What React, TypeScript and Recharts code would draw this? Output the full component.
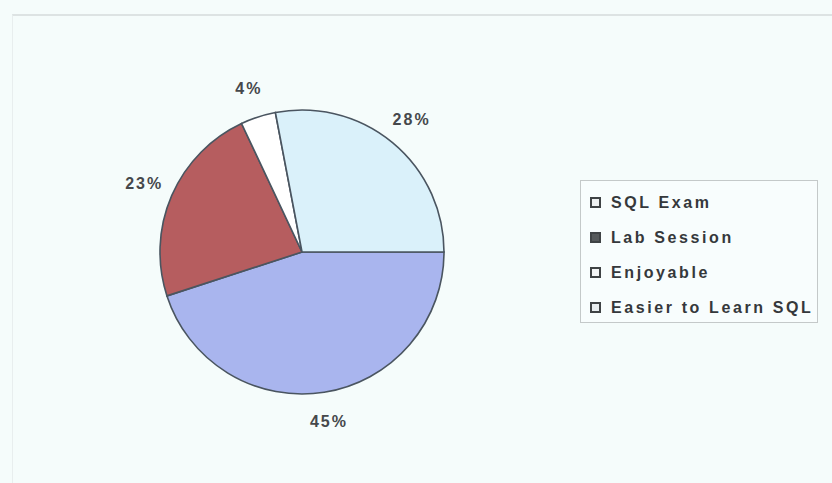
import React from "react";
import { PieChart, Pie, Cell, Legend } from "recharts";

// ── Data ──────────────────────────────────────────────────────────────────────

const categories = ["SQL Exam", "Lab Session", "Enjoyable", "Easier to Learn SQL"];
const shares = [45, 23, 4, 28];

const sliceColors = ["#a9b5ee", "#b65d5f", "#ffffff", "#daf1fa"];
// the scan renders legend swatches nearly greyscale
const swatchColors = ["#eef1f1", "#55595b", "#f4f6f6", "#e8eef0"];

const data = categories.map((name, i) => ({ name, value: shares[i] }));

const RAD = Math.PI / 180;

// ── Slice labels (outside, at mid-angle) ──────────────────────────────────────

function SliceLabel(props: any) {
  const { cx, cy, midAngle, outerRadius, percent } = props;
  const r = outerRadius + 30;
  const x = cx + r * Math.cos(-midAngle * RAD);
  const y = cy + r * Math.sin(-midAngle * RAD);
  return (
    <text
      x={x}
      y={y}
      textAnchor="middle"
      dominantBaseline="central"
      fill="#45484b"
      fontSize={16}
      fontWeight={700}
      letterSpacing={2}
      fontFamily="Arial, 'Liberation Sans', sans-serif"
    >
      {`${Math.round(percent * 100)}%`}
    </text>
  );
}

// ── Boxed legend (kept in category order, not angle order) ────────────────────

function BoxLegend() {
  return (
    <div
      style={{
        width: 238,
        height: 143,
        boxSizing: "border-box",
        border: "1px solid #c4c9c9",
        background: "#f8fdfd",
        paddingTop: 4,
      }}
    >
      {categories.map((name, i) => (
        <div
          key={name}
          style={{ display: "flex", alignItems: "center", height: 35, paddingLeft: 9 }}
        >
          <span
            style={{
              width: 7,
              height: 7,
              border: "2px solid #3f4345",
              background: swatchColors[i],
              marginRight: 10,
              flexShrink: 0,
            }}
          />
          <span
            style={{
              fontFamily: "Arial, 'Liberation Sans', sans-serif",
              fontSize: 16,
              fontWeight: 600,
              letterSpacing: 2.6,
              color: "#35383b",
              whiteSpace: "nowrap",
            }}
          >
            {name}
          </span>
        </div>
      ))}
    </div>
  );
}

// ── Main component ────────────────────────────────────────────────────────────

export default function App() {
  return (
    <div
      style={{
        position: "absolute",
        left: 0,
        top: 0,
        width: 832,
        height: 483,
        background: "#f5fcfb",
        overflow: "hidden",
      }}
    >
      {/* faint frame of the scanned chart area */}
      <div
        style={{
          position: "absolute",
          left: 12,
          top: 14,
          right: -2,
          bottom: -2,
          borderTop: "2px solid #dde3e3",
          borderLeft: "1px solid #e8eeee",
        }}
      />
      <PieChart
        width={832}
        height={483}
        margin={{ top: 0, right: 0, bottom: 0, left: 0 }}
        style={{ position: "absolute", left: 0, top: 0 }}
      >
        <Pie
          data={data}
          dataKey="value"
          nameKey="name"
          cx={302}
          cy={252}
          outerRadius={142}
          startAngle={0}
          endAngle={-360}
          stroke="#4a5560"
          strokeWidth={1.6}
          label={SliceLabel}
          labelLine={false}
          isAnimationActive={false}
        >
          {data.map((d, i) => (
            <Cell key={d.name} fill={sliceColors[i]} />
          ))}
        </Pie>
        <Legend
          layout="vertical"
          content={BoxLegend}
          wrapperStyle={{ position: "absolute", left: 580, top: 180, width: 238, height: 143 }}
        />
      </PieChart>
    </div>
  );
}
